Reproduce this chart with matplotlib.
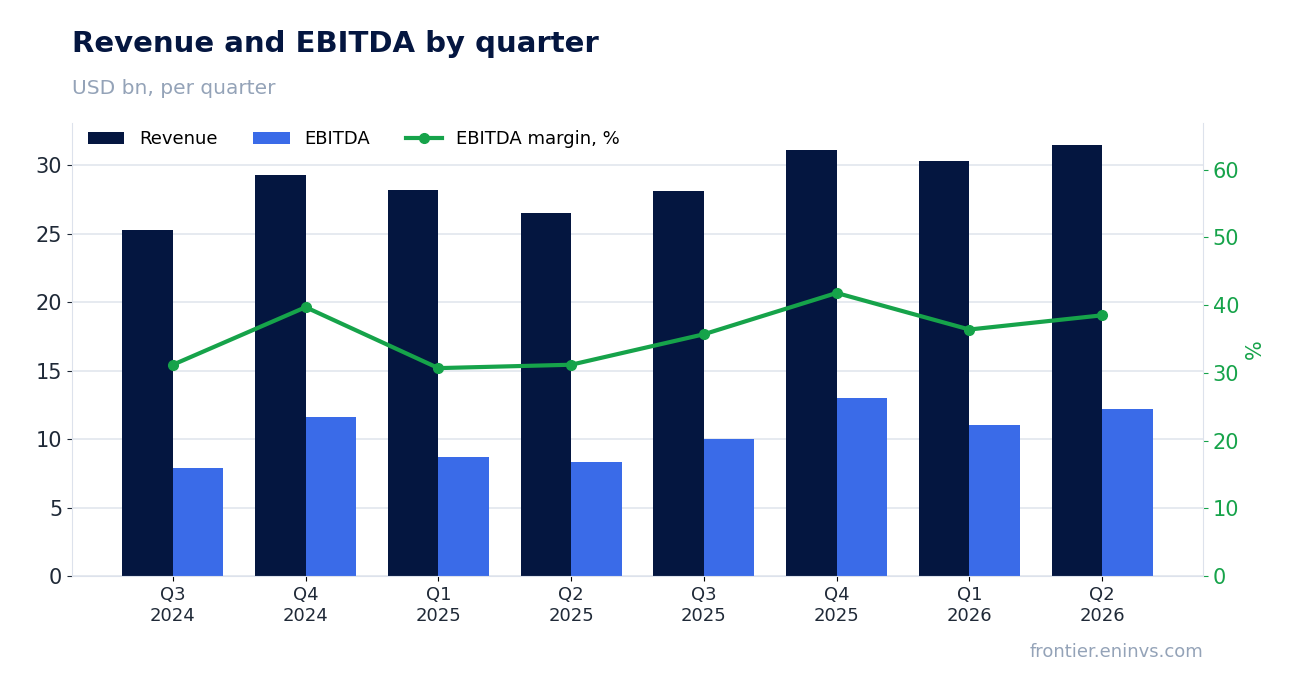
import matplotlib
matplotlib.use("Agg")
import matplotlib.pyplot as plt
import numpy as np

quarters = ["Q3\n2024", "Q4\n2024", "Q1\n2025", "Q2\n2025", "Q3\n2025", "Q4\n2025", "Q1\n2026", "Q2\n2026"]
revenue = [25.3, 29.3, 28.2, 26.5, 28.1, 31.1, 30.3, 31.5]
ebitda = [7.9, 11.6, 8.7, 8.3, 10.0, 13.0, 11.0, 12.2]
margin = [31.2, 39.7, 30.7, 31.2, 35.7, 41.8, 36.4, 38.5]

navy = "#041640"; blue = "#3a6be8"; green = "#16a34a"
fig = plt.figure(figsize=(13.02, 6.93), dpi=100)
ax = fig.add_axes([72/1302, 1-576/693, (1203-72)/1302, (576-123)/693])
x = np.arange(len(quarters))
w = 0.38
ax.bar(x - w/2, revenue, w, color=navy, label="Revenue", zorder=2)
ax.bar(x + w/2, ebitda, w, color=blue, label="EBITDA", zorder=2)
ax.set_xlim(-0.76, 7.76)
ax.set_ylim(0, 33.1)
ax.set_yticks(range(0, 31, 5))
ax.grid(axis="y", color="#e2e6ee", lw=1.2, zorder=0)
ax.set_xticks(x)
ax.set_xticklabels(quarters, fontsize=13, color="#1f2937")
ax.tick_params(axis="y", labelsize=15, colors="#1f2937")
for s in ["top", "right"]:
    ax.spines[s].set_visible(False)
for s in ["left", "bottom"]:
    ax.spines[s].set_color("#dde2ec")

ax2 = ax.twinx()
ax2.plot(x, margin, color=green, lw=3, marker="o", ms=7, label="EBITDA margin, %", zorder=3)
ax2.set_ylim(0, 66.9)
ax2.set_yticks(range(0, 61, 10))
ax2.tick_params(axis="y", labelsize=15, colors=green)
ax2.set_ylabel("%", color=green, fontsize=15)
for s in ["top", "left", "bottom"]:
    ax2.spines[s].set_visible(False)
ax2.spines["right"].set_color("#dde2ec")

h1, l1 = ax.get_legend_handles_labels()
h2, l2 = ax2.get_legend_handles_labels()
ax.legend(h1 + h2, l1 + l2, loc="upper left", ncol=3, frameon=False, fontsize=13,
          bbox_to_anchor=(0.0, 1.02))

fig.text(72/1302, 1-44/693, "Revenue and EBITDA by quarter", fontsize=21, weight="bold", color=navy, va="center")
fig.text(72/1302, 1-88/693, "USD bn, per quarter", fontsize=14.5, color="#94a3b8", va="center")
fig.text(1203/1302, 1-652/693, "frontier.eninvs.com", fontsize=13, color="#94a3b8", ha="right", va="center")
fig.savefig("out.png", dpi=100)
